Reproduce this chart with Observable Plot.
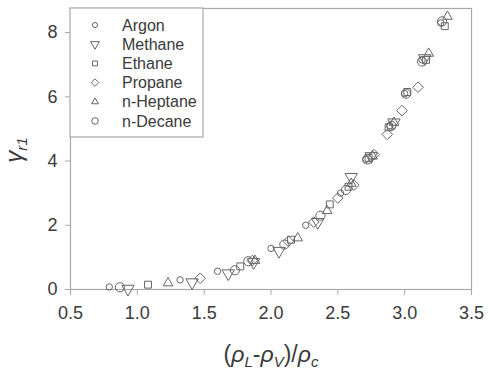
<!DOCTYPE html>
<html>
<head>
<meta charset="utf-8">
<script src="https://cdn.jsdelivr.net/npm/d3@7"></script>
<script src="https://cdn.jsdelivr.net/npm/@observablehq/plot@0.6"></script>
<style>
  html, body { margin: 0; padding: 0; background: #fff; }
  svg { display: block; }
</style>
</head>
<body>
<div id="chart"></div>
<script>
// ---- data ----
const substances = ["Argon", "Methane", "Ethane", "Propane", "n-Heptane", "n-Decane"];
const xTicks = [0.5, 1.0, 1.5, 2.0, 2.5, 3.0, 3.5];
const yTicks = [0, 2, 4, 6, 8];

const argonX = [0.79, 1.32, 1.60, 2.00, 2.26, 2.52, 2.71, 2.89, 3.00, 3.13, 3.27];
const argonY = [0.08, 0.30, 0.57, 1.28, 2.00, 3.00, 4.05, 5.10, 6.10, 7.15, 8.30];
const methaneX = [0.93, 1.41, 1.68, 1.87, 2.06, 2.35, 2.60, 2.75, 2.92, 3.15];
const methaneY = [0.02, 0.22, 0.50, 0.85, 1.20, 2.10, 3.50, 4.15, 5.20, 7.20];
const ethaneX = [1.08, 1.77, 2.15, 2.44, 2.58, 2.73, 2.88, 3.02, 3.16, 3.30];
const ethaneY = [0.15, 0.72, 1.55, 2.65, 3.20, 4.10, 5.05, 6.15, 7.15, 8.20];
const propaneX = [1.47, 1.86, 2.13, 2.32, 2.50, 2.62, 2.77, 2.87, 2.98, 3.10];
const propaneY = [0.35, 0.90, 1.50, 2.10, 2.85, 3.25, 4.20, 4.83, 5.57, 6.30];
const heptaneX = [1.23, 1.88, 2.20, 2.42, 2.60, 2.76, 2.92, 3.18, 3.32];
const heptaneY = [0.20, 0.90, 1.60, 2.45, 3.30, 4.15, 5.20, 7.35, 8.50];
const decaneX = [0.87, 1.73, 1.83, 2.10, 2.37, 2.56, 2.72, 2.90, 3.01, 3.13, 3.28];
const decaneY = [0.07, 0.60, 0.88, 1.40, 2.30, 3.10, 4.05, 5.10, 6.10, 7.10, 8.35];

const seriesX = [argonX, methaneX, ethaneX, propaneX, heptaneX, decaneX];
const seriesY = [argonY, methaneY, ethaneY, propaneY, heptaneY, decaneY];

// ---- symbols ----
const triangleDown = {
  draw(ctx, size) {
    const y = -Math.sqrt(size / (Math.sqrt(3) * 3));
    ctx.moveTo(0, -y * 2);
    ctx.lineTo(-Math.sqrt(3) * y, y);
    ctx.lineTo(Math.sqrt(3) * y, y);
    ctx.closePath();
  }
};
const symbols = [d3.symbolCircle, triangleDown, d3.symbolSquare2, d3.symbolDiamond2, d3.symbolTriangle2, d3.symbolCircle];
const radii = [3.2, 4.6, 4.4, 4.8, 4.6, 4.6];

const stroke = "#666";
const textColor = "#3a3a3a";
const frameColor = "#a8a8a8";

const data = substances.flatMap((name, i) => seriesX[i].map((x, j) => ({name, x, y: seriesY[i][j]})));

const marks = [
  Plot.frame({stroke: frameColor, strokeWidth: 1.2}),
  Plot.axisX({ticks: xTicks, tickFormat: d => d.toFixed(1), tickSize: 6, tickPadding: 11,
    fontSize: 18, label: null, stroke: frameColor, color: textColor}),
  Plot.axisY({ticks: yTicks, tickSize: 5, tickPadding: 8, fontSize: 18, label: null,
    stroke: frameColor, color: textColor}),
  ...substances.map((name, i) => Plot.dot(data.filter(d => d.name === name), {
    x: "x", y: "y", symbol: symbols[i], r: radii[i], stroke, strokeWidth: 1, fill: "none"
  }))
];

const plot = Plot.plot({
  width: 489,
  height: 371,
  marginLeft: 70,
  marginRight: 18,
  marginTop: 8,
  marginBottom: 82,
  style: {fontFamily: "Liberation Sans, Arial, sans-serif", background: "#fff"},
  x: {domain: [0.5, 3.5]},
  y: {domain: [0, 8.75]},
  marks
});

const svg = d3.select(plot);

// Legend
const lg = svg.append("g").attr("text-anchor", "start");
lg.append("rect").attr("x", 70).attr("y", 8).attr("width", 133).attr("height", 129)
  .attr("fill", "#fff").attr("stroke", frameColor).attr("stroke-width", 1.2);
substances.forEach((name, i) => {
  const cy = 25 + i * 19.2;
  lg.append("path")
    .attr("d", d3.symbol(symbols[i], Math.PI * radii[i] * radii[i] * (i === 0 ? 0.65 : 0.5))())
    .attr("transform", `translate(95,${cy})`)
    .attr("fill", "none").attr("stroke", stroke).attr("stroke-width", 1);
  lg.append("text").attr("x", 122).attr("y", cy).attr("dy", "0.35em")
    .attr("text-anchor", "start")
    .attr("font-size", 16).attr("fill", textColor)
    .attr("font-family", "Liberation Sans, Arial, sans-serif").text(name);
});

// X axis label: (ρL-ρV)/ρc
const xl = svg.append("text").attr("x", 271).attr("y", 362).attr("text-anchor", "middle")
  .attr("font-size", 23).attr("fill", textColor).attr("font-family", "Liberation Sans, Arial, sans-serif");
xl.append("tspan").text("(");
xl.append("tspan").attr("font-style", "italic").text("ρ");
xl.append("tspan").attr("font-style", "italic").attr("font-size", 15).attr("dy", 5).text("L");
xl.append("tspan").attr("dy", -5).text("-");
xl.append("tspan").attr("font-style", "italic").text("ρ");
xl.append("tspan").attr("font-style", "italic").attr("font-size", 15).attr("dy", 5).text("V");
xl.append("tspan").attr("dy", -5).text(")/");
xl.append("tspan").attr("font-style", "italic").text("ρ");
xl.append("tspan").attr("font-style", "italic").attr("font-size", 15).attr("dy", 5).text("c");

// Y axis label: γr1
const yl = svg.append("text").attr("transform", "translate(22,150) rotate(-90)").attr("text-anchor", "middle")
  .attr("font-size", 24).attr("fill", textColor).attr("font-family", "Liberation Sans, Arial, sans-serif");
yl.append("tspan").attr("font-style", "italic").text("γ");
yl.append("tspan").attr("font-style", "italic").attr("font-size", 15).attr("dy", 5).text("r1");

document.getElementById("chart").appendChild(plot);
</script>
</body>
</html>
